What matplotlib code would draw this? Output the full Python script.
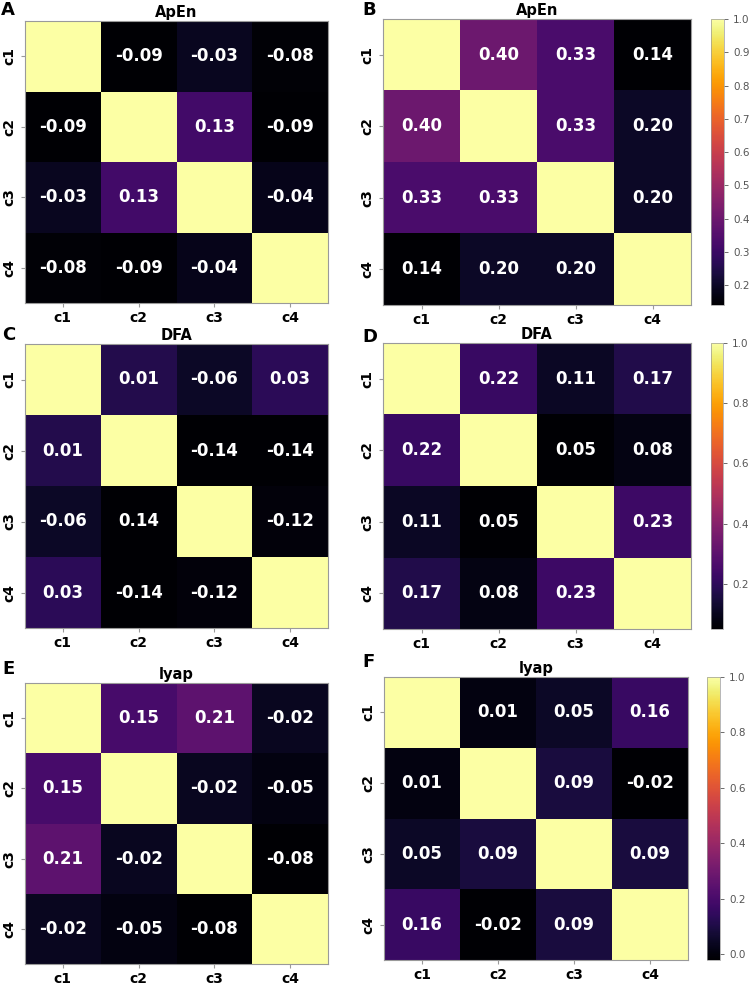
import numpy as np
import matplotlib
matplotlib.use("Agg")
import matplotlib.pyplot as plt
import seaborn as sns

#%% DATA
channels = ["c1", "c2", "c3", "c4"]

apen_left = [[1.00, -0.09, -0.03, -0.08],
             [-0.09, 1.00, 0.13, -0.09],
             [-0.03, 0.13, 1.00, -0.04],
             [-0.08, -0.09, -0.04, 1.00]]
apen_right = [[1.00, 0.40, 0.33, 0.14],
              [0.40, 1.00, 0.33, 0.20],
              [0.33, 0.33, 1.00, 0.20],
              [0.14, 0.20, 0.20, 1.00]]
dfa_left = [[1.00, 0.01, -0.06, 0.03],
            [0.01, 1.00, -0.14, -0.14],
            [-0.06, -0.14, 1.00, -0.12],
            [0.03, -0.14, -0.12, 1.00]]
dfa_right = [[1.00, 0.22, 0.11, 0.17],
             [0.22, 1.00, 0.05, 0.08],
             [0.11, 0.05, 1.00, 0.23],
             [0.17, 0.08, 0.23, 1.00]]
lyap_left = [[1.00, 0.15, 0.21, -0.02],
             [0.15, 1.00, -0.02, -0.05],
             [0.21, -0.02, 1.00, -0.08],
             [-0.02, -0.05, -0.08, 1.00]]
lyap_right = [[1.00, 0.01, 0.05, 0.16],
              [0.01, 1.00, 0.09, -0.02],
              [0.05, 0.09, 1.00, 0.09],
              [0.16, -0.02, 0.09, 1.00]]

# the printed label in panel C (row c3, col c2) has no minus sign
label_fix_c = {(2, 1): "0.14"}

cbar_ticks_b = [0.2, 0.3, 0.4, 0.5, 0.6, 0.7, 0.8, 0.9, 1.0]
cbar_ticks_d = [0.2, 0.4, 0.6, 0.8, 1.0]
cbar_ticks_f = [0.0, 0.2, 0.4, 0.6, 0.8, 1.0]

#%% LAYOUT (pixel boxes: x0, x1, y0, y1)
W, H = 750, 985

def rect(x0, x1, y0, y1):
    return [x0 / W, 1 - y1 / H, (x1 - x0) / W, (y1 - y0) / H]

panels = [
    # letter, letter pos, title, data, heatmap box, colorbar box, ticks, fixes
    ("A", (1, 10), "ApEn", apen_left, (25, 328, 21, 303), None, None, {}),
    ("B", (362, 10), "ApEn", apen_right, (383, 691, 19, 305), (711, 724, 19, 305), cbar_ticks_b, {}),
    ("C", (2, 335), "DFA", dfa_left, (25, 328, 344, 628), None, None, label_fix_c),
    ("D", (362, 337), "DFA", dfa_right, (383, 691, 343, 629), (711, 723, 343, 629), cbar_ticks_d, {}),
    ("E", (2, 669), "lyap", lyap_left, (25, 328, 683, 964), None, None, {}),
    ("F", (362, 662), "lyap", lyap_right, (384, 688, 677, 960), (707, 720, 677, 960), cbar_ticks_f, {}),
]

plt.rcParams['font.family'] = ['DejaVu Sans']
fig = plt.figure(figsize=(7.5, 9.85), dpi=100)

for letter, lpos, title, data, box, cbox, ticks, fixes in panels:
    mat = np.array(data)
    labels = np.array([["" if i == j else "%.2f" % mat[i, j] for j in range(4)] for i in range(4)], dtype=object)
    for (i, j), s in fixes.items():
        labels[i, j] = s

    ax = fig.add_axes(rect(*box))
    cax = fig.add_axes(rect(*cbox)) if cbox else None
    sns.heatmap(mat, ax=ax, cmap="inferno", vmin=mat.min(), vmax=1.0,
                annot=labels, fmt="", cbar=cax is not None, cbar_ax=cax,
                annot_kws={"color": "white", "fontsize": 12, "fontweight": "bold"},
                xticklabels=channels, yticklabels=channels)

    for s in ax.spines.values():
        s.set_visible(True)
        s.set_color("#9a9a9a")
        s.set_linewidth(0.8)
    ax.tick_params(length=3, color="#9a9a9a", pad=3)
    ax.set_xticklabels(channels, fontsize=10, fontweight="bold", rotation=0)
    ax.set_yticklabels(channels, fontsize=10, fontweight="bold", rotation=90, va="center")
    ax.set_title(title, fontsize=10.5, fontweight="bold", pad=3)

    # panel letter
    fig.text(lpos[0] / W, 1 - lpos[1] / H, letter, fontsize=13, fontweight="bold", va="center", ha="left")

    if cax is not None:
        cb = ax.collections[0].colorbar
        cb.set_ticks(ticks)
        cb.set_ticklabels(["%.1f" % t for t in ticks])
        cax.tick_params(labelsize=7.5, colors="#555555", length=3, width=0.6)
        cb.outline.set_linewidth(0.5)
        cb.outline.set_edgecolor("#9a9a9a")

fig.savefig("out.png", dpi=100, facecolor="white")
